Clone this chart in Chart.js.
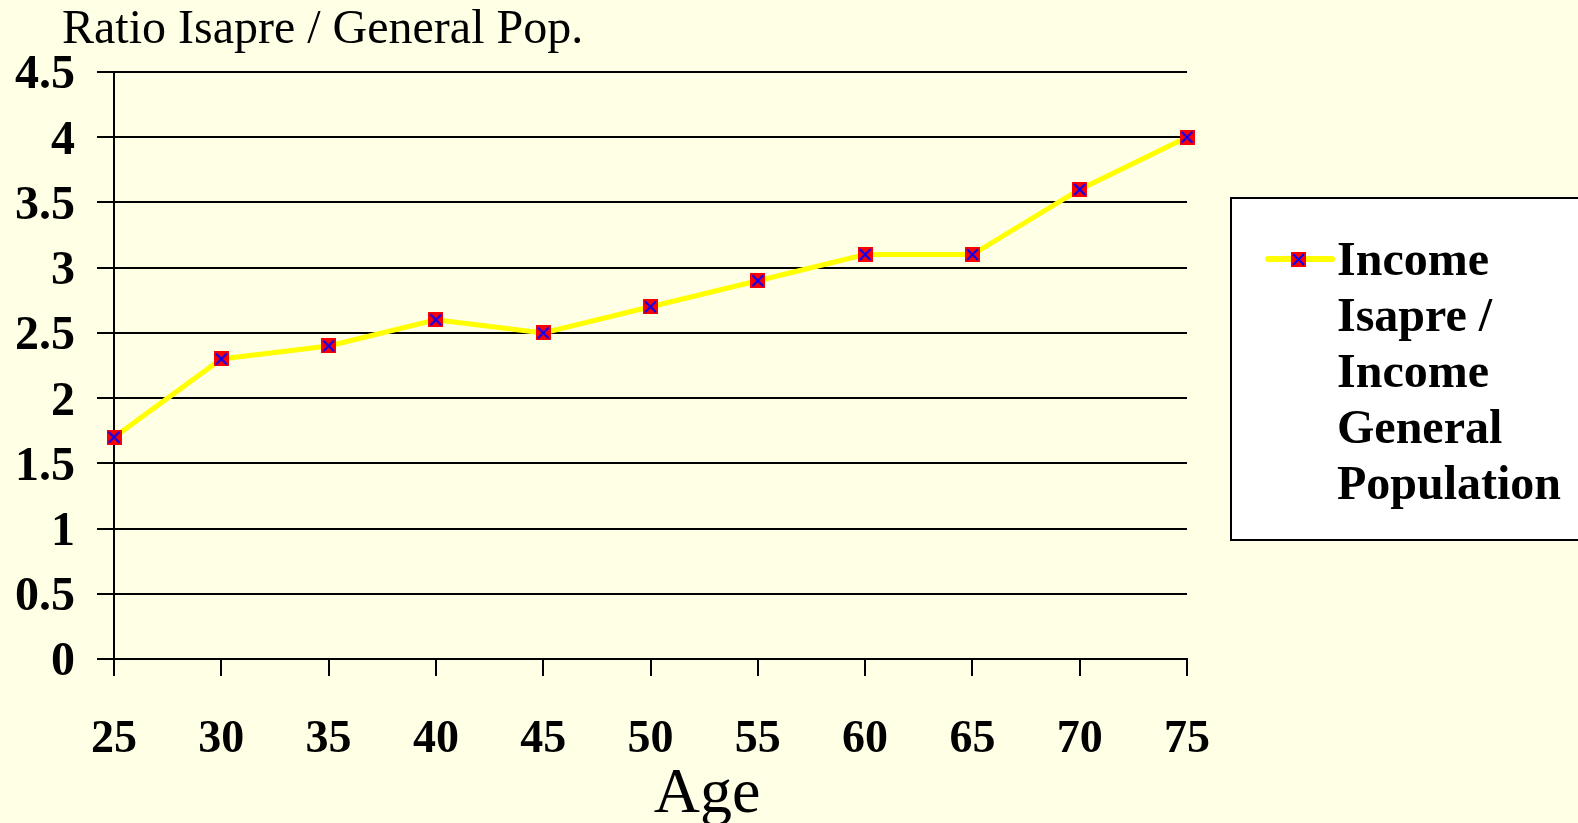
<!DOCTYPE html>
<html>
<head>
<meta charset="utf-8">
<script src="https://cdn.jsdelivr.net/npm/chart.js@4/dist/chart.umd.min.js"></script>
<style>
html,body{margin:0;padding:0;background:#FFFFE5;}
#wrap{width:1578px;height:823px;position:relative;}
</style>
</head>
<body>
<div id="wrap"><canvas id="c" width="1578" height="823"></canvas></div>
<script>
const ages = ['25','30','35','40','45','50','55','60','65','70','75'];
const ratioValues = [1.7, 2.3, 2.4, 2.6, 2.5, 2.7, 2.9, 3.1, 3.1, 3.6, 4.0];
const yTickLabels = ['0','0.5','1','1.5','2','2.5','3','3.5','4','4.5'];
const seriesLabel = ['Income', 'Isapre /', 'Income', 'General', 'Population'];
const yTitle = 'Ratio Isapre / General Pop.';
const xTitle = 'Age';

const SERIF = '"Liberation Serif", "Times New Roman", serif';
const BG = '#FFFFE5';

function makeMarker(size){
  const c = document.createElement('canvas');
  c.width = size; c.height = size;
  const g = c.getContext('2d');
  g.fillStyle = '#FF0000';
  g.fillRect(0,0,size,size);
  g.strokeStyle = '#0000FF';
  g.lineWidth = 2;
  g.beginPath();
  g.moveTo(2,2); g.lineTo(size-2,size-2);
  g.moveTo(size-2,2); g.lineTo(2,size-2);
  g.stroke();
  return c;
}
const marker = makeMarker(15);

const decor = {
  id: 'decor',
  beforeDraw(chart){
    const ctx = chart.ctx;
    ctx.save();
    ctx.fillStyle = BG;
    ctx.fillRect(0,0,chart.width,chart.height);
    ctx.restore();
  },
  afterDraw(chart){
    const ctx = chart.ctx;
    ctx.save();
    ctx.fillStyle = '#000';
    ctx.font = '48px ' + SERIF;
    ctx.textBaseline = 'middle';
    ctx.textAlign = 'left';
    ctx.fillText(yTitle, 62, 30);
    ctx.font = '64px ' + SERIF;
    ctx.textAlign = 'center';
    ctx.fillText(xTitle, 707, 795);
    ctx.fillStyle = '#FFFFFF';
    ctx.fillRect(1231, 198, 360, 342);
    ctx.strokeStyle = '#000';
    ctx.lineWidth = 2;
    ctx.strokeRect(1231, 198, 360, 342);
    ctx.strokeStyle = '#FFFF00';
    ctx.lineWidth = 6;
    ctx.lineCap = 'round';
    ctx.beginPath();
    ctx.moveTo(1268, 259); ctx.lineTo(1332, 259);
    ctx.stroke();
    ctx.drawImage(marker, 1298 - 7, 259 - 7);
    ctx.fillStyle = '#000';
    ctx.font = 'bold 48px ' + SERIF;
    ctx.textAlign = 'left';
    ctx.textBaseline = 'middle';
    seriesLabel.forEach((t,i)=>ctx.fillText(t, 1337, 263 + i*55.8));
    ctx.restore();
  }
};

new Chart(document.getElementById('c'), {
  type: 'line',
  data: {
    labels: ages,
    datasets: [{
      label: seriesLabel.join(' '),
      data: ratioValues,
      borderColor: '#FFFF00',
      borderWidth: 5,
      tension: 0,
      pointStyle: marker,
      pointRadius: 7,
      pointHoverRadius: 7
    }]
  },
  options: {
    responsive: false,
    animation: false,
    events: [],
    layout: { padding: { top: 72, right: 391, bottom: 0, left: 0 } },
    plugins: { legend: { display: false }, title: { display: false }, tooltip: { enabled: false } },
    scales: {
      x: {
        type: 'category',
        offset: false,
        afterFit(s){ s.height = 823 - 659; },
        grid: { drawOnChartArea: false, drawTicks: true, tickLength: 17, color: '#000', lineWidth: 2 },
        border: { display: true, color: '#000', width: 2 },
        ticks: { color: '#000', font: { family: SERIF, size: 46, weight: 'bold' }, padding: 37, maxRotation: 0, autoSkip: false }
      },
      y: {
        min: 0, max: 4.5,
        afterFit(s){ s.width = 114; },
        grid: { drawOnChartArea: true, drawTicks: true, tickLength: 17, color: '#000', lineWidth: 2 },
        border: { display: true, color: '#000', width: 2 },
        ticks: { stepSize: 0.5, color: '#000', font: { family: SERIF, size: 48, weight: 'bold' }, padding: 22,
          labelOffset: 4,
          callback: (v, i) => yTickLabels[i] }
      }
    }
  },
  plugins: [decor]
});
</script>
</body>
</html>
